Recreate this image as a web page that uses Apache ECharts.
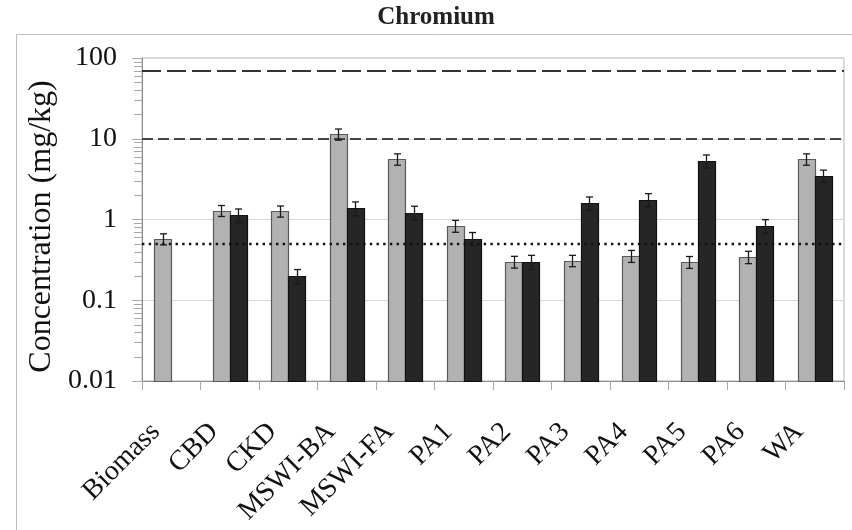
<!DOCTYPE html>
<html>
<head>
<meta charset="utf-8">
<script src="https://cdn.jsdelivr.net/npm/echarts@6/dist/echarts.min.js"></script>
<style>html,body{margin:0;padding:0;background:#fff}#c{width:852px;height:530px}</style>
</head>
<body>
<div id="c"></div>
<script>
var categories = ['Biomass','CBD','CKD','MSWI-BA','MSWI-FA','PA1','PA2','PA3','PA4','PA5','PA6','WA'];
var grayValues = [0.575,1.29,1.27,11.4,5.6,0.835,0.30,0.31,0.354,0.298,0.344,5.6];
var grayErrors = [0.09,0.2,0.2,1.8,0.9,0.14,0.05,0.05,0.06,0.05,0.06,0.9];
var blackValues = [null,1.13,0.20,1.38,1.22,0.58,0.30,1.6,1.76,5.3,0.835,3.49];
var blackErrors = [null,0.22,0.04,0.27,0.24,0.11,0.06,0.3,0.33,1.0,0.16,0.6];
var yTickLabels = ['0.01','0.1','1','10','100'];
var minorTickValues = [0.02,0.03,0.04,0.05,0.06,0.07,0.08,0.09,0.2,0.3,0.4,0.5,0.6,0.7,0.8,0.9,2,3,4,5,6,7,8,9,20,30,40,50,60,70,80,90];
var axisMin = 0.01;
var axisMax = 100;
var limitUpper = 70;
var limitMiddle = 10;
var limitLower = 0.5;

var SERIF = "Liberation Serif";
var BAR_W = 17;

function barSeries(values, offset, fill, border) {
  var data = [];
  for (var i = 0; i < values.length; i++) {
    if (values[i] == null) continue;
    data.push([i, values[i]]);
  }
  return {
    type: 'custom',
    silent: true,
    z: 3,
    data: data,
    encode: { x: 0, y: 1 },
    renderItem: function (params, api) {
      var top = api.coord([api.value(0), api.value(1)]);
      var base = api.coord([api.value(0), axisMin]);
      var cx = top[0] + offset;
      return {
        type: 'rect',
        shape: { x: Math.round(cx - BAR_W / 2) + 0.5, y: Math.round(top[1]) + 0.5, width: BAR_W, height: Math.round(base[1]) - Math.round(top[1]) },
        style: { fill: fill, stroke: border, lineWidth: 1.2 }
      };
    }
  };
}

function errorSeries(values, errors, offset) {
  var data = [];
  for (var i = 0; i < values.length; i++) {
    if (values[i] == null) continue;
    data.push([i, values[i] - errors[i], values[i] + errors[i]]);
  }
  return {
    type: 'custom',
    silent: true,
    z: 10,
    data: data,
    encode: { x: 0, y: [1, 2] },
    renderItem: function (params, api) {
      var lo = api.coord([api.value(0), api.value(1)]);
      var hi = api.coord([api.value(0), api.value(2)]);
      var x = Math.round(lo[0] + offset) + 0.5;
      var cap = 3.5;
      var st = { stroke: '#1a1a1a', lineWidth: 1.3 };
      return {
        type: 'group',
        children: [
          { type: 'line', shape: { x1: x, y1: lo[1], x2: x, y2: hi[1] }, style: st },
          { type: 'line', shape: { x1: x - cap, y1: lo[1], x2: x + cap, y2: lo[1] }, style: st },
          { type: 'line', shape: { x1: x - cap, y1: hi[1], x2: x + cap, y2: hi[1] }, style: st }
        ]
      };
    }
  };
}

var chart = echarts.init(document.getElementById('c'), null, { renderer: 'canvas' });
chart.setOption({
  animation: false,
  backgroundColor: '#fff',
  graphic: [
    { type: 'rect', shape: { x: 16.5, y: 34.5, width: 860, height: 520 }, style: { fill: 'none', stroke: '#bdbdbd', lineWidth: 1 }, z: -10 },
    { type: 'text', x: 436, y: 18, style: { text: 'Chromium', fontSize: 25, fontWeight: 'bold', fontFamily: SERIF, fill: '#222', align: 'center', verticalAlign: 'middle' } }
  ],
  grid: { left: 142, right: 8, top: 58, bottom: 149, show: true, borderColor: '#b5b5b5', borderWidth: 1 },
  xAxis: {
    type: 'category',
    data: categories,
    axisLine: { lineStyle: { color: '#8c8c8c', width: 1 } },
    axisTick: { show: true, length: 9, lineStyle: { color: '#a8a8a8' } },
    axisLabel: { rotate: 45, margin: 31, padding: [0, 22, 0, 0], fontFamily: SERIF, fontSize: 28, color: '#111' }
  },
  yAxis: {
    type: 'log',
    logBase: 10,
    min: axisMin,
    max: axisMax,
    name: 'Concentration (mg/kg)',
    nameLocation: 'middle',
    nameGap: 84,
    nameRotate: 90,
    nameTextStyle: { fontFamily: SERIF, fontSize: 32, color: '#111', padding: [0, 14, 0, 0] },
    axisLine: { show: true, lineStyle: { color: '#8c8c8c', width: 1 } },
    axisTick: { show: true, length: 10, lineStyle: { color: '#a8a8a8' } },
    axisLabel: {
      margin: 25,
      fontFamily: SERIF,
      fontSize: 28,
      color: '#111',
      formatter: function (v, idx) { return yTickLabels[idx] != null ? yTickLabels[idx] : String(v); }
    },
    splitLine: { show: true, lineStyle: { color: '#d9d9d9', width: 1 } }
  },
  series: [
    barSeries(grayValues, -BAR_W / 2, '#b2b2b2', '#5a5a5a'),
    barSeries(blackValues, BAR_W / 2, '#262626', '#111111'),
    errorSeries(grayValues, grayErrors, -BAR_W / 2),
    errorSeries(blackValues, blackErrors, BAR_W / 2),
    {
      type: 'line',
      data: [],
      z: 20,
      silent: true,
      markLine: {
        silent: true,
        symbol: 'none',
        label: { show: false },
        data: [
          { yAxis: limitUpper, lineStyle: { color: '#333', width: 2.2, type: [19, 6] } },
          { yAxis: limitMiddle, lineStyle: { color: '#444', width: 2, type: [11, 5] } },
          { yAxis: limitLower, lineStyle: { color: '#111', width: 2.4, type: [2.4, 4.3] } }
        ]
      }
    },
    {
      type: 'custom',
      silent: true,
      z: 5,
      data: minorTickValues.map(function (v) { return [0, v]; }),
      encode: { x: 0, y: 1 },
      clip: false,
      renderItem: function (params, api) {
        var p = api.coord([0, api.value(1)]);
        var x0 = params.coordSys.x;
        var y = Math.round(p[1]) + 0.5;
        return { type: 'line', shape: { x1: x0 - 8, y1: y, x2: x0, y2: y }, style: { stroke: '#a8a8a8', lineWidth: 1 } };
      }
    }
  ]
});
</script>
</body>
</html>
